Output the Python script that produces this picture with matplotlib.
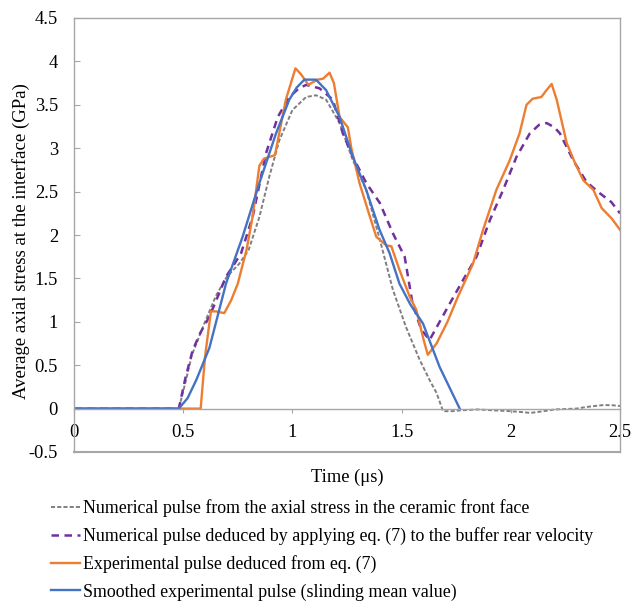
import matplotlib
matplotlib.use("Agg")
import matplotlib.pyplot as plt

# ---- data ----
t_num = [0, 0.48, 0.51, 0.54, 0.60, 0.65, 0.70, 0.757, 0.80, 0.849, 0.894, 0.94, 1.0, 1.063, 1.108,
         1.154, 1.216, 1.277, 1.338, 1.40, 1.46, 1.52, 1.583, 1.628, 1.66, 1.69, 1.73, 1.77, 1.85,
         1.92, 2.0, 2.05, 2.09, 2.15, 2.2, 2.3, 2.35, 2.42, 2.46, 2.5]
y_num = [0, 0, 0.3, 0.62, 1.0, 1.3, 1.52, 1.67, 1.83, 2.21, 2.67, 3.09, 3.44, 3.59, 3.61,
         3.56, 3.29, 2.86, 2.52, 1.95, 1.37, 0.94, 0.56, 0.33, 0.18, -0.03, -0.03, -0.02, -0.01,
         -0.02, -0.03, -0.04, -0.05, -0.03, -0.01, 0.0, 0.02, 0.04, 0.04, 0.03]

t_buf = [0, 0.48, 0.51, 0.543, 0.58, 0.62, 0.66, 0.696, 0.73, 0.765, 0.818, 0.879, 0.933, 0.986,
         1.03, 1.063, 1.124, 1.185, 1.231, 1.277, 1.338, 1.40, 1.46, 1.514, 1.55, 1.59, 1.628,
         1.705, 1.781, 1.843, 1.904, 1.965, 2.026, 2.087, 2.13, 2.164, 2.2, 2.225, 2.286, 2.347,
         2.408, 2.46, 2.5]
y_buf = [0, 0, 0.35, 0.67, 0.88, 1.06, 1.3, 1.52, 1.65, 1.79, 2.21, 2.94, 3.36, 3.59,
         3.69, 3.73, 3.69, 3.56, 3.17, 2.90, 2.60, 2.37, 2.02, 1.75, 1.21, 0.91, 0.79,
         1.14, 1.48, 1.75, 2.17, 2.52, 2.90, 3.17, 3.27, 3.29, 3.24, 3.17, 2.86, 2.61,
         2.48, 2.38, 2.25]

t_exp = [0, 0.58, 0.60, 0.627, 0.65, 0.688, 0.72, 0.75, 0.79, 0.817, 0.849, 0.87, 0.92, 0.97,
         1.014, 1.04, 1.073, 1.115, 1.14, 1.17, 1.19, 1.216, 1.254, 1.27, 1.307, 1.35, 1.384,
         1.43, 1.453, 1.49, 1.537, 1.567, 1.60, 1.62, 1.66, 1.71, 1.758, 1.827, 1.873, 1.934,
         1.995, 2.04, 2.072, 2.10, 2.14, 2.164, 2.187, 2.21, 2.256, 2.294, 2.332, 2.378, 2.416,
         2.462, 2.5]
y_exp = [0, 0, 0.6, 1.12, 1.12, 1.10, 1.25, 1.44, 1.83, 2.2, 2.8, 2.88, 2.92, 3.56,
         3.92, 3.85, 3.73, 3.79, 3.80, 3.87, 3.75, 3.36, 3.24, 3.0, 2.6, 2.25, 1.98,
         1.88, 1.87, 1.6, 1.29, 1.14, 0.8, 0.62, 0.75, 1.0, 1.29, 1.67, 2.06, 2.52,
         2.86, 3.17, 3.50, 3.57, 3.59, 3.67, 3.74, 3.56, 3.06, 2.83, 2.63, 2.52, 2.31,
         2.19, 2.06]

t_smo = [0, 0.48, 0.52, 0.56, 0.62, 0.696, 0.772, 0.849, 0.925, 0.986, 1.02, 1.055, 1.108, 1.154,
         1.216, 1.277, 1.338, 1.399, 1.445, 1.49, 1.54, 1.598, 1.674, 1.766]
y_smo = [0, 0, 0.12, 0.33, 0.7, 1.44, 1.98, 2.6, 3.17, 3.56, 3.7, 3.79, 3.79, 3.67,
         3.36, 2.90, 2.52, 2.06, 1.79, 1.44, 1.2, 0.98, 0.48, 0.0]

labels = ["Numerical pulse from the axial stress in the ceramic front face",
          "Numerical pulse deduced by applying eq. (7) to the buffer rear velocity",
          "Experimental pulse deduced from eq. (7)",
          "Smoothed experimental pulse (slinding mean value)"]

x_ticks = [0, 0.5, 1, 1.5, 2, 2.5]
x_tick_labels = ["0", "0.5", "1", "1.5", "2", "2.5"]
y_ticks = [-0.5, 0, 0.5, 1, 1.5, 2, 2.5, 3, 3.5, 4, 4.5]
y_tick_labels = ["-0.5", "0", "0.5", "1", "1.5", "2", "2.5", "3", "3.5", "4", "4.5"]

# ---- figure ----
plt.rcParams['font.family'] = ['Liberation Serif', 'DejaVu Serif']
fig = plt.figure(figsize=(6.31, 6.02), dpi=100)
ax = fig.add_axes([74/631, 1-452/602, 546/631, 434/602])

c_gray = '#7F7F7F'
c_purple = '#7030A0'
c_orange = '#ED7D31'
c_blue = '#4472C4'

l1, = ax.plot(t_num, y_num, color=c_gray, lw=1.4, linestyle=(0, (2.1, 1.1)))
l2, = ax.plot(t_buf, y_buf, color=c_purple, lw=1.8, linestyle=(0, (3.0, 2.2)))
l3, = ax.plot(t_exp, y_exp, color=c_orange, lw=1.7)
l4, = ax.plot(t_smo, y_smo, color=c_blue, lw=1.7)

ax.set_xlim(0, 2.5)
ax.set_ylim(-0.5, 4.5)

frame_c = '#A6A6A6'
for s in ['top', 'right', 'left']:
    ax.spines[s].set_color(frame_c)
    ax.spines[s].set_linewidth(1.0)
ax.spines['bottom'].set_position(('data', 0))
ax.spines['bottom'].set_color(frame_c)
ax.spines['bottom'].set_linewidth(1.0)
ax.axhline(-0.5, color=frame_c, lw=1.5, clip_on=False)

ax.set_xticks(x_ticks)
ax.set_xticklabels(x_tick_labels)
ax.set_yticks(y_ticks)
ax.set_yticklabels(y_tick_labels)
ax.tick_params(axis='x', direction='out', length=3, color=frame_c, labelsize=13.3, pad=8)
ax.tick_params(axis='y', direction='in', length=4, color=frame_c, labelsize=13.3, pad=11.5)

ax.set_ylabel("Average axial stress at the interface (GPa)", fontsize=13.5)
ax.yaxis.set_label_coords(-0.08, 0.486)
ax.set_xlabel("Time (μs)", fontsize=13.3)
ax.xaxis.set_label_coords(0.5, -0.038)

fig.legend([l1, l2, l3, l4], labels, loc='upper left', bbox_to_anchor=(35/631, 1-483/602),
           frameon=False, fontsize=12.9, handlelength=1.62, handletextpad=0.17,
           labelspacing=0.57)

fig.savefig("out.png", dpi=100)
